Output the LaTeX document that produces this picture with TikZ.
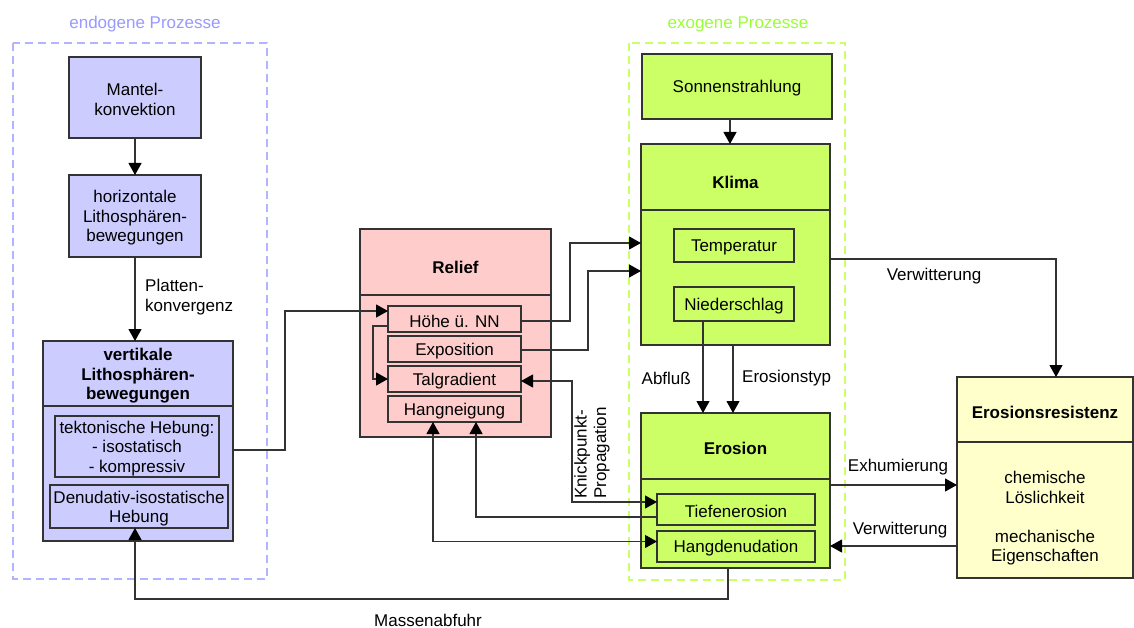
\documentclass[tikz,border=0pt]{standalone}
\usepackage{fontspec}
\setmainfont{Liberation Sans}
\usetikzlibrary{arrows.meta}
\definecolor{endofill}{HTML}{CCCCFF}
\definecolor{relfill}{HTML}{FFCCCC}
\definecolor{exofill}{HTML}{CCFF66}
\definecolor{resfill}{HTML}{FFFFCC}
\definecolor{lincol}{HTML}{333333}
\definecolor{endodash}{HTML}{B3B3FF}
\definecolor{exodash}{HTML}{CCFF66}
\definecolor{endotext}{HTML}{9999FF}
\definecolor{exotext}{HTML}{99FF33}
\begin{document}
\begin{tikzpicture}[x=1pt,y=-1pt,
  every node/.style={font=\fontsize{17}{19.5}\selectfont},
  box/.style={draw=lincol,line width=1.2pt,inner sep=0pt,outer sep=0pt,rectangle},
  txt/.style={align=center,inner sep=1pt,yshift=-2pt},
  ttl/.style={align=center,inner sep=1pt,font=\fontsize{17}{19.5}\selectfont\bfseries},
  con/.style={draw=lincol,line width=1.1pt},
  arr/.style={con,-{Triangle[length=12pt,width=13pt,color=black]}},
  arrb/.style={con,{Triangle[length=12pt,width=13pt,color=black]}-{Triangle[length=12pt,width=13pt,color=black]}},
  grp/.style={dash pattern=on 8pt off 5pt,line width=1.2pt}]
\useasboundingbox (0,0) rectangle (1134,628);
\fill[white] (0,0) rectangle (1134,628);
% group frames
\draw[grp,endodash] (13,43) rectangle (267,579);
\draw[grp,exodash] (629,43) rectangle (845,580);
\node[txt,text=endotext] (endolbl) at (145,22) {endogene Prozesse};
\node[txt,text=exotext] (exolbl) at (738,22) {exogene Prozesse};
% endogenous
\node[box,fill=endofill,minimum width=132pt,minimum height=81pt] (mantel) at (135,97.5) {};
\node[txt] (mantelT) at (mantel) {Mantel-\\konvektion};
\node[box,fill=endofill,minimum width=132pt,minimum height=82pt] (horiz) at (135,216) {};
\node[txt] (horizT) at (horiz) {horizontale\\Lithosphären-\\bewegungen};
\node[box,fill=endofill,minimum width=190pt,minimum height=200pt] (vert) at (138,441) {};
\node[ttl,yshift=-2pt] (vertT) at (138,374) {vertikale\\Lithosphären-\\bewegungen};
\draw[lincol,line width=1.2pt] (vert.west |- 0,406) -- (vert.east |- 0,406);
\node[box,fill=endofill,minimum width=164pt,minimum height=61pt] (tek) at (137,446.5) {};
\node[txt] (tekT) at (tek) {tektonische Hebung:\\- isostatisch\\- kompressiv};
\node[box,fill=endofill,minimum width=178pt,minimum height=43pt] (den) at (139,506.5) {};
\node[txt] (denT) at (den) {Denudativ-isostatische\\Hebung};
% relief
\node[box,fill=relfill,minimum width=191pt,minimum height=208pt] (relief) at (455.5,333) {};
\node[ttl] (reliefT) at (455.5,267) {Relief};
\draw[lincol,line width=1.2pt] (relief.west |- 0,295) -- (relief.east |- 0,295);
\node[box,fill=relfill,minimum width=133pt,minimum height=26pt] (hoehe) at (454.5,319) {};
\node[txt] (hoeheT) at (hoehe) {Höhe ü. NN};
\node[box,fill=relfill,minimum width=133pt,minimum height=26pt] (expo) at (454.5,349) {};
\node[txt] (expoT) at (expo) {Exposition};
\node[box,fill=relfill,minimum width=133pt,minimum height=26pt] (talg) at (454.5,379) {};
\node[txt] (talgT) at (talg) {Talgradient};
\node[box,fill=relfill,minimum width=133pt,minimum height=26pt] (hang) at (454.5,409) {};
\node[txt] (hangT) at (hang) {Hangneigung};
% exogenous
\node[box,fill=exofill,minimum width=190pt,minimum height=65pt] (sonne) at (737,86.5) {};
\node[txt] (sonneT) at (sonne) {Sonnenstrahlung};
\node[box,fill=exofill,minimum width=189pt,minimum height=201pt] (klima) at (735.5,244.5) {};
\node[ttl] (klimaT) at (735.5,182) {Klima};
\draw[lincol,line width=1.2pt] (klima.west |- 0,210) -- (klima.east |- 0,210);
\node[box,fill=exofill,minimum width=120pt,minimum height=33pt] (temp) at (734,245.5) {};
\node[txt] (tempT) at (temp) {Temperatur};
\node[box,fill=exofill,minimum width=120pt,minimum height=34pt] (nied) at (734,304) {};
\node[txt] (niedT) at (nied) {Niederschlag};
\node[box,fill=exofill,minimum width=189pt,minimum height=155pt] (eros) at (735.5,490.5) {};
\node[ttl] (erosT) at (735.5,448) {Erosion};
\draw[lincol,line width=1.2pt] (eros.west |- 0,479) -- (eros.east |- 0,479);
\node[box,fill=exofill,minimum width=158pt,minimum height=31pt] (tiefe) at (736,509.5) {};
\node[txt] (tiefeT) at (tiefe) {Tiefenerosion};
\node[box,fill=exofill,minimum width=158pt,minimum height=31pt] (hangden) at (736,546.5) {};
\node[txt] (hangdenT) at (hangden) {Hangdenudation};
% resistance
\node[box,fill=resfill,minimum width=176pt,minimum height=201pt] (resist) at (1045,477.5) {};
\node[ttl] (resistT) at (1045,412) {Erosionsresistenz};
\draw[lincol,line width=1.2pt] (resist.west |- 0,442) -- (resist.east |- 0,442);
\node[txt] (resistB) at (1045,516.5) {chemische\\Löslichkeit\\[19.5pt]mechanische\\Eigenschaften};
% connectors
\draw[arr] (mantel.south) -- (horiz.north);
\draw[arr] (horiz.south) -- (horiz.south |- vert.north);
\node[txt,anchor=west,align=left] (plattenL) at (144,295) {Platten-\\konvergenz};
\draw[arr] ([yshift=-9pt]vert.east) -- ++(52,0) |- ([yshift=8pt]hoehe.west);
\draw[arr] ([yshift=-7pt]hoehe.west) -- ++(-15,0) |- (talg.west);
\draw[arr] ([yshift=-2pt]hoehe.east) -- ++(49,0) |- ([yshift=1.5pt]klima.west);
\draw[arr] ([yshift=-1pt]expo.east) -- ++(67,0) |- ([yshift=-26.5pt]klima.west);
\draw[arrb] ([yshift=-2pt]talg.east) -- ++(51,0) |- ([yshift=7.5pt]tiefe.west);
\node[txt,rotate=90,anchor=north west,align=left,yshift=2pt] (knickL) at (575,498) {Knickpunkt-\\Propagation};
\draw[arr] ([yshift=-7.5pt]tiefe.west) -| ([xshift=21.5pt]hang.south);
\draw[arrb] ([xshift=-21.5pt]hang.south) |- ([yshift=5pt]hangden.west);
\draw[arr] ([xshift=-7pt]sonne.south) -- ([xshift=-5.5pt]klima.north);
\draw[arr] ([xshift=-31pt]nied.south) -- ([xshift=-31pt]nied.south |- eros.north);
\node[txt,anchor=east] (abflussL) at (692,376) {Abfluß};
\draw[arr] ([xshift=-2.5pt]klima.south) -- ([xshift=-2.5pt]eros.north);
\node[txt,anchor=west] (typL) at (741,376) {Erosionstyp};
\draw[arr] ([yshift=-14.5pt]klima.east) -| ([xshift=11pt]resist.north);
\node[txt] (verw1L) at (934,274) {Verwitterung};
\draw[arr] ([yshift=5.5pt]eros.east) -- ([yshift=5.5pt]eros.east -| resist.west);
\node[txt] (exhL) at (898,465) {Exhumierung};
\draw[arr] ([yshift=-55.5pt]eros.east -| resist.west) -- ([yshift=-55.5pt]eros.east);
\node[txt] (verw2L) at (900,528) {Verwitterung};
\draw[arr] ([xshift=-7.5pt]eros.south) -- ++(0,31) -| ([xshift=-4pt]den.south);
\node[txt] (massL) at (428,618) {Massenabfuhr};
\end{tikzpicture}
\end{document}
